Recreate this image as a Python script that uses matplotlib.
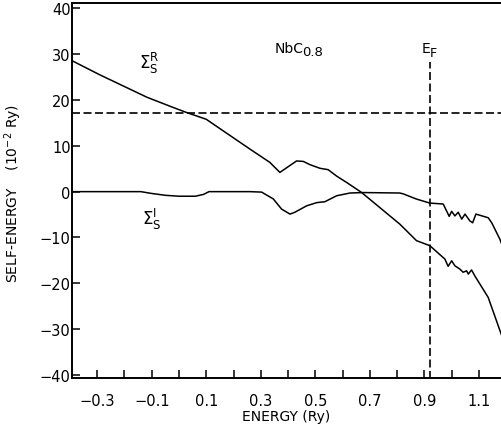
import matplotlib
matplotlib.use("Agg")
import matplotlib.pyplot as plt
from matplotlib.ticker import FixedLocator, FixedFormatter

# ---- data ----
sigR_x = [-0.3925, -0.29, -0.117, -0.022, 0.027, 0.10, 0.26, 0.333, 0.37, 0.431, 0.456,
          0.48, 0.517, 0.547, 0.578, 0.615, 0.670, 0.81, 0.871, 0.92, 0.969, 0.975,
          0.987, 1.0, 1.012, 1.030, 1.042, 1.055, 1.061, 1.073, 1.085, 1.134, 1.184]
sigR_y = [28.6, 25.5, 20.6, 18.4, 17.3, 15.8, 9.3, 6.4, 4.2, 6.7, 6.6,
          5.9, 5.1, 4.8, 3.4, 2.0, -0.2, -7.1, -10.7, -11.8, -14.4, -14.7,
          -16.3, -15.1, -16.2, -16.9, -17.6, -17.3, -18.0, -17.1, -18.4, -23.1, -31.5]

sigI_x = [-0.3925, -0.14, -0.10, -0.05, 0.0, 0.06, 0.09, 0.11, 0.26, 0.303, 0.346,
          0.376, 0.407, 0.425, 0.468, 0.505, 0.535, 0.578, 0.627, 0.676, 0.81, 0.823,
          0.87, 0.92, 0.969, 0.991, 1.0, 1.012, 1.024, 1.037, 1.049, 1.067, 1.077,
          1.089, 1.134, 1.147, 1.177, 1.184]
sigI_y = [0.0, 0.0, -0.4, -0.8, -1.0, -1.0, -0.6, 0.0, 0.0, -0.1, -1.6,
          -3.8, -4.9, -4.5, -3.1, -2.4, -2.2, -0.9, -0.3, -0.2, -0.3, -0.5,
          -1.6, -2.5, -2.7, -5.4, -4.3, -5.3, -4.5, -6.0, -4.9, -6.4, -6.8,
          -4.9, -5.7, -6.8, -10.4, -11.5]

hline_y = 17.2
e_fermi = 0.92
ef_top = 28.3

xticks = [-0.3, -0.2, -0.1, 0.0, 0.1, 0.2, 0.3, 0.4, 0.5, 0.6, 0.7, 0.8, 0.9, 1.0, 1.1]
xticklabels = ["\u22120.3", "", "\u22120.1", "", "0.1", "", "0.3", "", "0.5", "", "0.7", "", "0.9", "", "1.1"]
yticks = [40, 30, 20, 10, 0, -10, -20, -30, -40]
yticklabels = ["40", "30", "20", "10", "0", "\u221210", "\u221220", "\u221230", "\u221240"]

fig = plt.figure(figsize=(5.02, 4.27), dpi=100)
ax = fig.add_axes([72/502, 1-379/427, (501-72)/502, (379-4)/427])

ax.plot(sigR_x, sigR_y, color="black", lw=1.1)
ax.plot(sigI_x, sigI_y, color="black", lw=1.1)
ax.axhline(hline_y, color="black", lw=1.2, dashes=(4.8, 2.1))
ax.plot([e_fermi, e_fermi], [-41, ef_top], color="black", lw=1.2, dashes=(4.8, 2.1))

ax.set_xlim(-0.3925, 1.181)
ax.set_ylim(-40.7, 41.2)

ax.xaxis.set_major_locator(FixedLocator(xticks))
ax.xaxis.set_major_formatter(FixedFormatter(xticklabels))
ax.yaxis.set_major_locator(FixedLocator(yticks))
ax.yaxis.set_major_formatter(FixedFormatter(yticklabels))
ax.tick_params(axis="both", direction="in", length=5.5, width=1.1, labelsize=10.5, color="black")
ax.tick_params(axis="x", pad=11)
ax.tick_params(axis="y", pad=1)

for s in ["left", "bottom", "top"]:
    ax.spines[s].set_linewidth(1.4)
ax.spines["right"].set_visible(False)

ax.set_xlabel("ENERGY (Ry)", fontsize=10, labelpad=0.5)
ax.set_ylabel("SELF-ENERGY    (10$^{-2}$ Ry)", fontsize=10)
ax.yaxis.set_label_coords(-0.112, 0.495)

ax.text(-0.147, 27.0, r"$\Sigma_\mathrm{S}^\mathrm{R}$", fontsize=12, ha="left", va="baseline")
ax.text(-0.137, -7.1, r"$\Sigma_\mathrm{S}^\mathrm{I}$", fontsize=12, ha="left", va="baseline")
ax.text(0.352, 30.5, "NbC", fontsize=10, ha="left", va="baseline")
ax.text(0.452, 29.8, "0.8", fontsize=9.5, ha="left", va="baseline")
ax.text(0.89, 30.4, "E", fontsize=10, ha="left", va="baseline")
ax.text(0.918, 29.7, "F", fontsize=9, ha="left", va="baseline")

fig.savefig("out.png", dpi=100)
